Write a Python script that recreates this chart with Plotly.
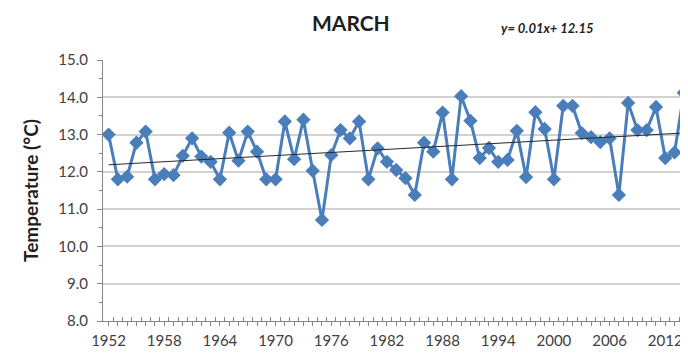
import numpy as np
import plotly.graph_objects as go

years = list(range(1952, 2015))
temps = [13.0, 11.8, 11.87, 12.78, 13.08, 11.8, 11.94, 11.91, 12.43, 12.9,
         12.41, 12.27, 11.8, 13.05, 12.3, 13.08, 12.54, 11.8, 11.8, 13.35,
         12.34, 13.4, 12.03, 10.71, 12.45, 13.12, 12.9, 13.35, 11.8, 12.63,
         12.27, 12.05, 11.83, 11.38, 12.78, 12.54, 13.59, 11.8, 14.03, 13.37,
         12.37, 12.64, 12.27, 12.32, 13.1, 11.86, 13.6, 13.15, 11.8, 13.77,
         13.77, 13.04, 12.93, 12.8, 12.9, 11.38, 13.85, 13.12, 13.12, 13.74,
         12.37, 12.52, 14.12]
y_ticks = [8.0, 9.0, 10.0, 11.0, 12.0, 13.0, 14.0, 15.0]
x_label_years = list(range(1952, 2015, 6))
title_text = "MARCH"
equation_text = "y= 0.01x+ 12.15"

# linear trend fitted to the data
coef = np.polyfit(years, temps, 1)
trend = [coef[0] * y + coef[1] for y in years]

blue = "rgb(74,126,187)"
font_fam = "Lato, 'Open Sans', sans-serif"

# page body has an 8px margin; figure is sized to fill the rest of the window
OFF = 8
L, T, B = 103 - OFF, 60 - OFF, 37
W, H = 688 - OFF, 358 - OFF

fig = go.Figure()
fig.add_trace(go.Scatter(
    x=years, y=temps, mode="lines+markers",
    line=dict(color=blue, width=3),
    marker=dict(symbol="diamond", size=11, color=blue),
    cliponaxis=False, showlegend=False,
))
fig.add_trace(go.Scatter(
    x=[years[0], years[-1]], y=[trend[0], trend[-1]], mode="lines",
    line=dict(color="rgb(40,40,40)", width=1),
    showlegend=False,
))

fig.update_layout(
    width=W, height=H,
    margin=dict(l=L, r=0, t=T, b=B, pad=0),
    paper_bgcolor="white", plot_bgcolor="white",
    font=dict(family=font_fam, color="rgb(64,64,64)"),
    xaxis=dict(
        range=[1951.4, 2014.45],
        tickvals=years,
        ticktext=[str(y) if y in x_label_years else "" for y in years],
        ticks="outside", ticklen=4, tickcolor="rgb(134,134,134)",
        showline=True, linecolor="rgb(134,134,134)", linewidth=1,
        showgrid=False, zeroline=False,
        ticklabelstandoff=2,
        tickfont=dict(size=15, color="rgb(64,64,64)"),
        minor=dict(tickvals=[y + 0.5 for y in years], ticks="inside",
                   ticklen=4, tickcolor="rgb(134,134,134)", showgrid=False),
    ),
    yaxis=dict(
        range=[8, 15], tickvals=y_ticks,
        ticktext=[f"{v:.1f}" for v in y_ticks],
        ticks="outside", ticklen=5, tickcolor="rgb(134,134,134)",
        showline=True, linecolor="rgb(134,134,134)", linewidth=1,
        showgrid=True, gridcolor="rgb(210,210,210)", gridwidth=1.5,
        zeroline=False,
        ticklabelstandoff=6,
        tickfont=dict(size=15, color="rgb(64,64,64)"),
        title=dict(text="<b>Temperature (°C)</b>", font=dict(size=19, color="rgb(30,30,30)"),
                   standoff=14),
        minor=dict(dtick=0.5, ticks="outside", ticklen=3,
                   tickcolor="rgb(134,134,134)", showgrid=False),
    ),
)

plot_w = W - L
plot_h = H - T - B
def px_to_paper(px, py):
    return (px - OFF - L) / plot_w, (H - B - (py - OFF)) / plot_h

ax, ay = px_to_paper(351, 23)
bx, by = px_to_paper(547, 28)
fig.add_annotation(text=f"<b>{title_text}</b>", x=ax, y=ay, xref="paper", yref="paper",
                   xanchor="center", yanchor="middle", showarrow=False,
                   font=dict(size=21, color="rgb(30,30,30)"))
fig.add_annotation(text=f"<b><i>{equation_text}</i></b>", x=bx, y=by, xref="paper", yref="paper",
                   xanchor="center", yanchor="middle", showarrow=False,
                   font=dict(size=13, color="rgb(30,30,30)"))

fig.write_html("out.html")
